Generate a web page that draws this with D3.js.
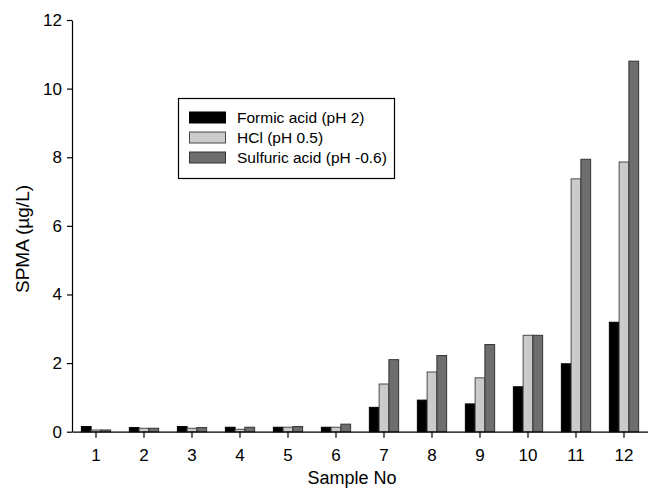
<!DOCTYPE html>
<head>
    <meta charset="UTF-8">
    <style>
    body { margin: 0; background: white; }
    svg text { font-family: "Liberation Sans", Arial, sans-serif; fill: #000; }
    .bar { stroke-width: 1; }
    </style>
</head>
<svg width="648" height="490"></svg>
<script src="https://d3js.org/d3.v7.min.js"></script>
<script>
// data
var samples = ["1", "2", "3", "4", "5", "6", "7", "8", "9", "10", "11", "12"];
var seriesNames = ["Formic acid (pH 2)", "HCl (pH 0.5)", "Sulfuric acid (pH -0.6)"];
var formic = [0.15, 0.12, 0.15, 0.13, 0.13, 0.13, 0.71, 0.92, 0.81, 1.31, 1.98, 3.19];
var hcl = [0.05, 0.10, 0.10, 0.07, 0.13, 0.13, 1.39, 1.74, 1.57, 2.81, 7.37, 7.86];
var sulfuric = [0.05, 0.10, 0.12, 0.13, 0.15, 0.22, 2.10, 2.22, 2.54, 2.81, 7.94, 10.80];
var yTicks = [0, 2, 4, 6, 8, 10, 12];

var fills = ["#000000", "#cbcbcb", "#6e6e6e"];
var strokes = ["#000000", "#4a4a4a", "#333333"];

var svg = d3.select("svg");
var x0 = d3.scaleBand().domain(samples).range([72, 648]).paddingInner(0.39).paddingOuter(0.195);
var x1 = d3.scaleBand().domain(seriesNames).range([0, x0.bandwidth()]);
var y = d3.scaleLinear().domain([0, 12]).range([431.7, 20]);

var rows = samples.map(function(s, i) {
    return { s: s, vals: [formic[i], hcl[i], sulfuric[i]] };
});

var g = svg.append("g");
g.selectAll("g.grp")
    .data(rows)
    .enter().append("g")
    .attr("class", "grp")
    .attr("transform", function(d) { return "translate(" + x0(d.s) + ",0)"; })
    .selectAll("rect")
    .data(function(d) { return d.vals.map(function(v, k) { return { k: k, v: v }; }); })
    .enter().append("rect")
    .attr("class", "bar")
    .attr("x", function(d) { return x1(seriesNames[d.k]); })
    .attr("width", x1.bandwidth())
    .attr("y", function(d) { return y(d.v); })
    .attr("height", function(d) { return y(0) - y(d.v); })
    .attr("fill", function(d) { return fills[d.k]; })
    .attr("stroke", function(d) { return strokes[d.k]; });

// axes
var xAxis = svg.append("g")
    .attr("transform", "translate(0," + y(0) + ")")
    .call(d3.axisBottom(x0).tickSize(6).tickSizeOuter(0).tickPadding(11));
var yAxis = svg.append("g")
    .attr("transform", "translate(72,0)")
    .call(d3.axisLeft(y).tickValues(yTicks).tickSize(5).tickSizeOuter(0).tickPadding(5));

[xAxis, yAxis].forEach(function(a) {
    a.select(".domain").attr("stroke", "#000").attr("stroke-width", 1.2);
    a.selectAll(".tick line").attr("stroke", "#000").attr("stroke-width", 1.2);
    a.selectAll("text").style("font-size", "17px").attr("fill", "#000")
        .style("font-family", '"Liberation Sans", Arial, sans-serif');
});

svg.append("text")
    .attr("x", 352).attr("y", 484)
    .attr("text-anchor", "middle")
    .style("font-size", "18px")
    .text("Sample No");

svg.append("text")
    .attr("transform", "translate(29,239) rotate(-90)")
    .attr("text-anchor", "middle")
    .style("font-size", "19px")
    .text("SPMA (µg/L)");

// legend
var legend = svg.append("g");
legend.append("rect")
    .attr("x", 178.5).attr("y", 98.5)
    .attr("width", 216).attr("height", 80)
    .attr("fill", "white").attr("stroke", "#000").attr("stroke-width", 1.2);
seriesNames.forEach(function(name, k) {
    legend.append("rect")
        .attr("x", 189.5).attr("y", 112 + k * 20)
        .attr("width", 36).attr("height", 11)
        .attr("fill", fills[k]).attr("stroke", strokes[k]);
    legend.append("text")
        .attr("x", 237).attr("y", 123 + k * 20)
        .style("font-size", "15.5px")
        .text(name);
});
</script>
